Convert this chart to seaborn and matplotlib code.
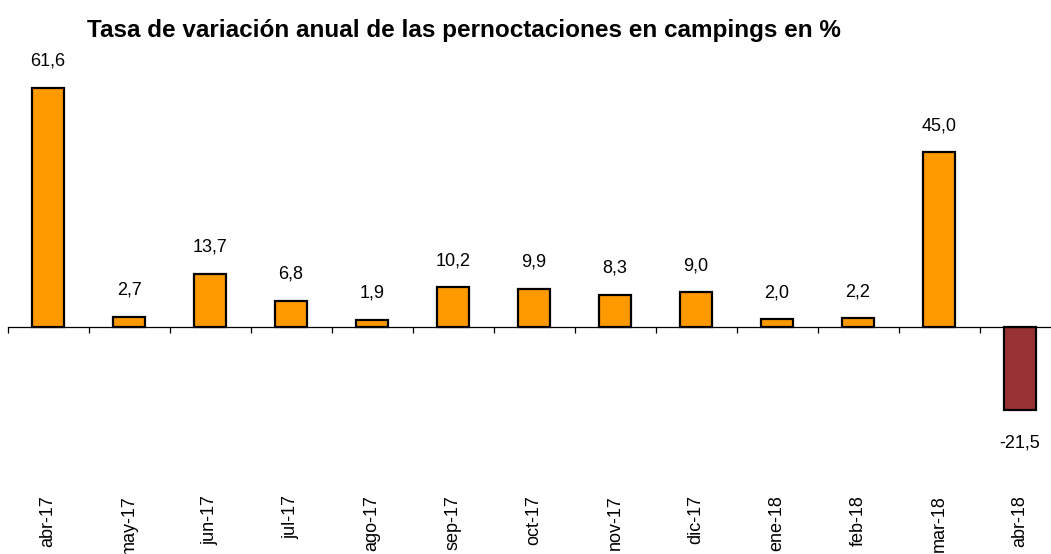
import numpy as np
import pandas as pd
import matplotlib
matplotlib.use("Agg")
import matplotlib.pyplot as plt
import seaborn as sns

meses = ['abr-17', 'may-17', 'jun-17', 'jul-17', 'ago-17', 'sep-17', 'oct-17',
         'nov-17', 'dic-17', 'ene-18', 'feb-18', 'mar-18', 'abr-18']
tasas = [61.6, 2.7, 13.7, 6.8, 1.9, 10.2, 9.9, 8.3, 9.0, 2.0, 2.2, 45.0, -21.5]

df = pd.DataFrame({'mes': meses, 'tasa': tasas})
df['signo'] = np.where(df['tasa'] >= 0, 'pos', 'neg')

sns.set_style("white")
plt.rcParams['font.family'] = ['Liberation Sans', 'DejaVu Sans']
plt.rcParams['text.color'] = 'black'
plt.rcParams['xtick.color'] = 'black'
plt.rcParams['xtick.labelcolor'] = 'black'
plt.rcParams['xtick.bottom'] = True

fig = plt.figure(figsize=(10.51, 5.54), dpi=100)
ax = fig.add_axes([7.5 / 1051, 0.1646, 1043.5 / 1051, 0.7354])

sns.barplot(data=df, x='mes', y='tasa', hue='signo',
            palette={'pos': '#FF9900', 'neg': '#993333'}, saturation=1,
            width=0.4, edgecolor='black', linewidth=1.6,
            dodge=False, legend=False, ax=ax)

for i, v in enumerate(tasas):
    txt = f"{v:.1f}".replace('.', ',')
    if v >= 0:
        ax.annotate(txt, (i, v), xytext=(0, 13), textcoords='offset points',
                    ha='center', va='bottom', fontsize=13)
    else:
        ax.annotate(txt, (i, v), xytext=(0, -17), textcoords='offset points',
                    ha='center', va='top', fontsize=13)

for s in ['top', 'right', 'left']:
    ax.spines[s].set_visible(False)
ax.spines['bottom'].set_position(('data', 0))
ax.spines['bottom'].set_linewidth(0.9)
ax.spines['bottom'].set_color('black')

ax.set_yticks([])
ax.set_xlabel('')
ax.set_ylabel('')
ax.set_xticks(range(len(meses)))
ax.set_xticklabels(meses, rotation=90, fontsize=13, va='top')
ax.tick_params(axis='x', which='major', length=0, pad=121)
ax.set_xticks(np.arange(-0.5, len(meses), 1.0), minor=True)
ax.tick_params(axis='x', which='minor', bottom=True, length=4.5, width=0.9,
               direction='out', color='black')

ax.set_autoscale_on(False)
ax.set_xlim(-0.5, -0.5 + 1043.5 / 81)
ax.set_ylim(-35, 70)

fig.text(464 / 1051, 1 - 31 / 554, 'Tasa de variación anual de las pernoctaciones en campings en %',
         ha='center', va='center', fontsize=17.5, fontweight='bold')

fig.savefig('out.png', dpi=100)
